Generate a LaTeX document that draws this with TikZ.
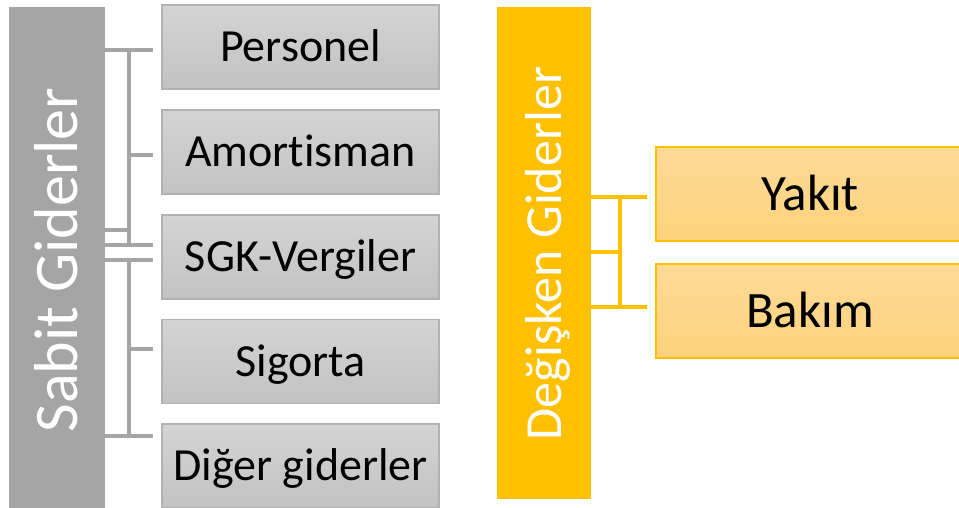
\documentclass[tikz,border=0pt]{standalone}
\usepackage{fontspec}
\setmainfont[Ligatures=NoCommon]{Carlito}
\definecolor{gbarc}{HTML}{A5A5A5}
\definecolor{gtop}{HTML}{D4D4D4}
\definecolor{gbot}{HTML}{C2C2C2}
\definecolor{gborder}{HTML}{B2B2B2}
\definecolor{ybarc}{HTML}{FFC000}
\definecolor{ytop}{HTML}{FEDA98}
\definecolor{ybot}{HTML}{FED27C}
\tikzset{
  gbarbox/.style={fill=gbarc, draw=none, inner sep=0pt},
  ybarbox/.style={fill=ybarc, draw=none, inner sep=0pt},
  gbox/.style={draw=gborder, line width=1.5pt, top color=gtop, bottom color=gbot,
    minimum width=277pt, minimum height=84pt, inner sep=0pt,
    text height=29.5pt, text depth=0pt, font=\fontsize{46}{55}\selectfont},
  ybox/.style={draw=ybarc, line width=1.5pt, top color=ytop, bottom color=ybot,
    minimum width=308pt, minimum height=94pt, inner sep=0pt,
    text height=33pt, text depth=0pt, font=\fontsize{51}{61}\selectfont},
  vlabel/.style={rotate=90, anchor=base, text=white, inner sep=0pt},
  gline/.style={draw=gbarc, line width=4pt, line cap=rect},
  yline/.style={draw=ybarc, line width=4pt, line cap=rect},
  tobox/.style={shorten >=10pt}
}
\begin{document}
\begin{tikzpicture}[x=1pt,y=-1pt]
\useasboundingbox (0,0) rectangle (959,507);
\clip (0,0) rectangle (959,507);
% Sabit Giderler
\node[gbarbox, minimum width=96pt, minimum height=506pt] (sabit) at (57,260) {};
\node[vlabel, font=\fontsize{62}{74}\selectfont] (sabitlbl) at (77,260) {Sabit Giderler};
\node[gbox] (b1) at (300.5,47) {Personel};
\node[gbox] (b2) at (300.5,152) {Amortisman};
\node[gbox] (b3) at (300.5,257) {SGK-Vergiler};
\node[gbox] (b4) at (300.5,361.5) {Sigorta};
\node[gbox] (b5) at (300.5,466) {Diğer giderler};
% group 1 junctions
\coordinate (j1) at (129,50);
\coordinate (j2) at (129,155);
\coordinate (j3) at (129,230);
\coordinate (j4) at (129,245);
\draw[gline, tobox] (sabit.east |- j1) -- (b1.west |- j1);
\draw[gline] (j1) -- (j4);
\draw[gline, tobox] (j2) -- (b2.west |- j2);
\draw[gline] (sabit.east |- j3) -- (j3);
\draw[gline, tobox] (sabit.east |- j4) -- (b3.west |- j4);
% group 2 junctions
\coordinate (k1) at (129,260);
\coordinate (k2) at (129,349);
\coordinate (k3) at (129,436);
\draw[gline, tobox] (sabit.east |- k1) -- (b3.west |- k1);
\draw[gline] (k1) -- (k3);
\draw[gline, tobox] (k2) -- (b4.west |- k2);
\draw[gline, tobox] (sabit.east |- k3) -- (b5.west |- k3);
% Değişken Giderler
\node[ybarbox, minimum width=94pt, minimum height=492pt] (degisken) at (544,253) {};
\node[vlabel, font=\fontsize{52}{62}\selectfont] (degiskenlbl) at (561,253.5) {Değişken Giderler};
\node[ybox] (y1) at (810,194) {Yakıt};
\node[ybox] (y2) at (810,311) {Bakım};
\coordinate (m1) at (620,197);
\coordinate (m2) at (620,252);
\coordinate (m3) at (620,307);
\draw[yline, tobox] (degisken.east |- m1) -- (y1.west |- m1);
\draw[yline] (m1) -- (m3);
\draw[yline] (degisken.east |- m2) -- (m2);
\draw[yline, tobox] (degisken.east |- m3) -- (y2.west |- m3);
\end{tikzpicture}
\end{document}
